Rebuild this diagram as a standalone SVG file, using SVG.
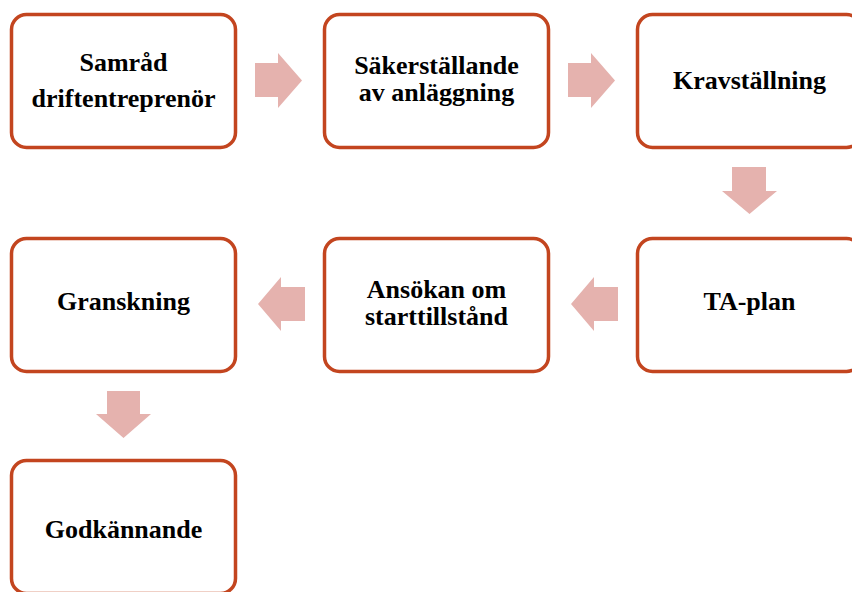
<svg xmlns="http://www.w3.org/2000/svg" width="852" height="592" viewBox="0 0 852 592">
<defs>
<rect id="bx" width="224" height="133" rx="15" fill="#ffffff" stroke="#C3451F" stroke-width="3.5"/>
</defs>
<rect width="852" height="592" fill="#ffffff"/>
<g id="connectors" fill="#E5B2AE">
<polygon points="255,63 278,63 278,53 302,80.5 278,108 278,97 255,97"/>
<polygon points="568,63 591,63 591,53 615,80.5 591,108 591,97 568,97"/>
<polygon points="732,167 766,167 766,191 777,191 749.5,214 722,191 732,191"/>
<polygon points="618,287 594,287 594,277 571,304 594,331 594,321 618,321"/>
<polygon points="305,287 281,287 281,277 258,304 281,331 281,321 305,321"/>
<polygon points="107,391 140,391 140,414 151,414 123.5,438 96,414 107,414"/>
</g>
<g font-size="26" fill="#000" font-family="Times New Roman, Tinos, Liberation Serif, serif" font-weight="bold" text-anchor="middle">
<g id="n1"><use href="#bx" x="11.5" y="14.5"/>
<text x="123.5" y="70.5">Samråd</text><text x="123.5" y="107">driftentreprenör</text></g>
<g id="n2"><use href="#bx" x="324.5" y="14.5"/>
<text x="436.5" y="73.5">Säkerställande</text><text x="436.5" y="100.5">av anläggning</text></g>
<g id="n3"><use href="#bx" x="637.5" y="14.5"/>
<text x="749.5" y="89">Kravställning</text></g>
<g id="n4"><use href="#bx" x="637.5" y="238.5"/>
<text x="749.5" y="309.5">TA-plan</text></g>
<g id="n5"><use href="#bx" x="324.5" y="238.5"/>
<text x="436.5" y="297.5">Ansökan om</text><text x="436.5" y="325">starttillstånd</text></g>
<g id="n6"><use href="#bx" x="11.5" y="238.5"/>
<text x="123.5" y="310">Granskning</text></g>
<g id="n7"><use href="#bx" x="11.5" y="460.5"/>
<text x="123.5" y="538">Godkännande</text></g>
</g>
</svg>
